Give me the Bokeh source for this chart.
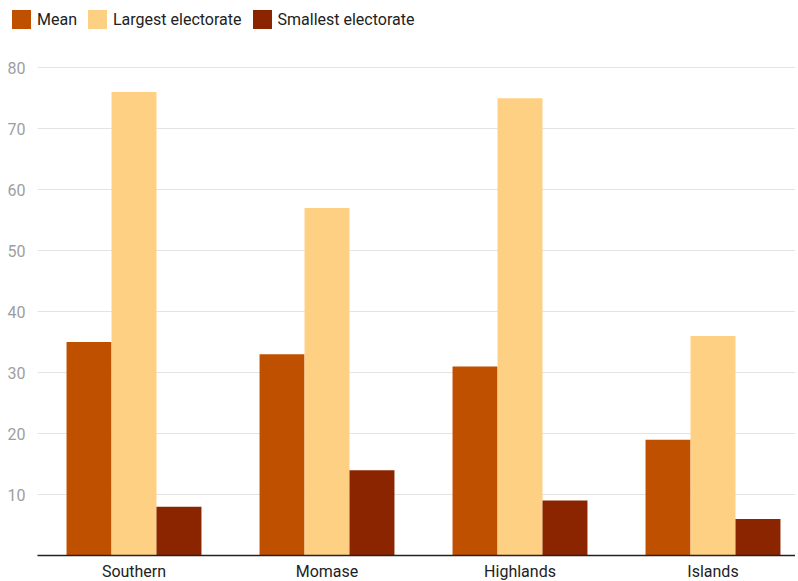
import numpy as np
from bokeh.plotting import figure
from bokeh.layouts import column
from bokeh.models import ColumnDataSource, Range1d, FixedTicker, Div
from bokeh.embed import file_html
from bokeh.resources import INLINE

regions = ["Southern", "Momase", "Highlands", "Islands"]
mean_vals = [35, 33, 31, 19]
largest_vals = [76, 57, 75, 36]
smallest_vals = [8, 14, 9, 6]
series_names = ["Mean", "Largest electorate", "Smallest electorate"]
colors = ["#bf5000", "#fed083", "#8a2500"]
y_ticks = [10, 20, 30, 40, 50, 60, 70, 80]

FONT = "Roboto"
PX_PER_GROUP = 193
FRAME_W = 758
FRAME_H = 497
LEFT = 37

# ---- main chart ----
p = figure(frame_width=FRAME_W, frame_height=FRAME_H, output_backend="svg", toolbar_location=None,
           x_range=Range1d(-0.5, -0.5 + FRAME_W / PX_PER_GROUP), y_range=Range1d(0, 81.5),
           min_border_left=LEFT, min_border_right=0, min_border_top=26, min_border_bottom=0)
p.outline_line_color = None
p.background_fill_color = "white"

idx = np.arange(len(regions))
w = 0.233
offsets = [-w, 0, w]
for vals, off, c in zip([mean_vals, largest_vals, smallest_vals], offsets, colors):
    src = ColumnDataSource(dict(x=idx + off, top=vals))
    p.vbar(x="x", top="top", width=w, source=src, fill_color=c, line_color=None)

p.xaxis.ticker = FixedTicker(ticks=list(idx))
p.xaxis.major_label_overrides = {int(i): n for i, n in zip(idx, regions)}
p.xaxis.major_tick_line_color = None
p.xaxis.minor_tick_line_color = None
p.xaxis.axis_line_color = "#222222"
p.xaxis.axis_line_width = 1.3
p.xaxis.major_label_text_font = FONT
p.xaxis.major_label_text_font_size = "16px"
p.xaxis.major_label_text_color = "#222222"
p.xaxis.major_label_standoff = 0
p.xgrid.grid_line_color = None

p.yaxis.ticker = FixedTicker(ticks=y_ticks)
p.yaxis.axis_line_color = None
p.yaxis.major_tick_line_color = None
p.yaxis.minor_tick_line_color = None
p.yaxis.major_label_text_font = FONT
p.yaxis.major_label_text_font_size = "16px"
p.yaxis.major_label_text_color = "#9e9e9e"
p.yaxis.major_label_standoff = 6
p.ygrid.grid_line_color = "#e3e3e3"
p.ygrid.grid_line_width = 1

# ---- legend strip above the chart (HTML, so it is not tied to the plot frame) ----
items_html = "".join(
    f'<span style="display:inline-block;width:19px;height:19px;background:{c};'
    f'margin-right:6px;flex:none"></span>'
    f'<span style="margin-right:11px;line-height:19px;white-space:nowrap">{n}</span>'
    for n, c in zip(series_names, colors)
)
legend_div = Div(
    text=f'<div style="display:flex;align-items:center;font-family:Roboto;'
         f'font-size:16px;color:#222222;padding-left:12px;padding-top:10px">{items_html}</div>',
    width=LEFT + FRAME_W, height=32, margin=0)

layout = column(legend_div, p, spacing=0)
open("out.html", "w").write(file_html(layout, INLINE))
